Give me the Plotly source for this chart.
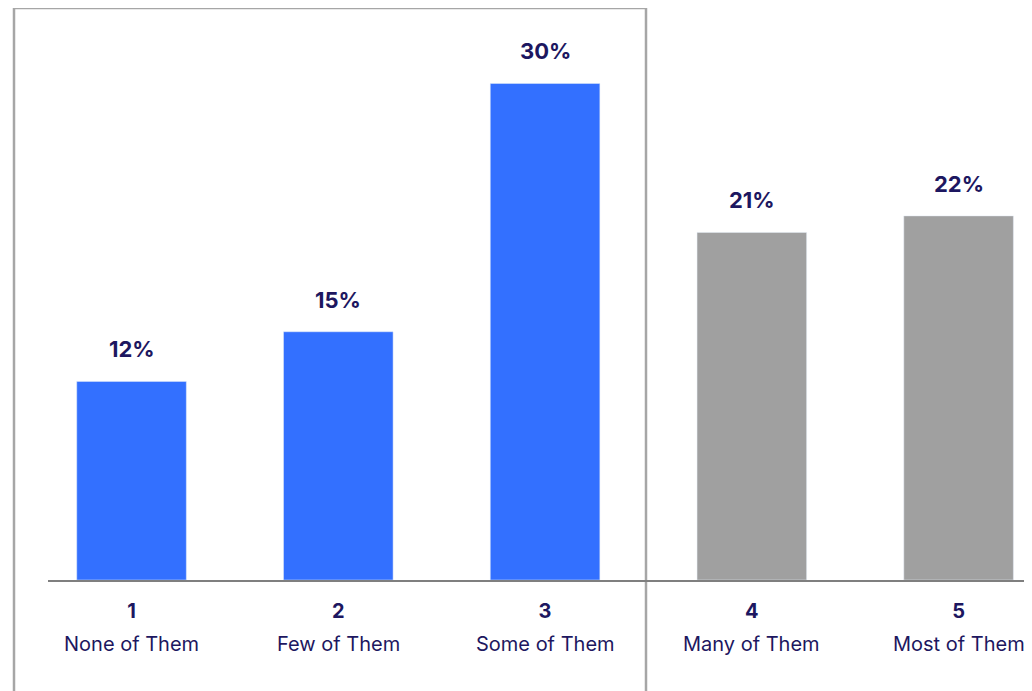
import plotly.graph_objects as go

codes = ["1", "2", "3", "4", "5"]
names = ["None of Them", "Few of Them", "Some of Them", "Many of Them", "Most of Them"]
shares = [12, 15, 30, 21, 22]
colors = ["#3370ff", "#3370ff", "#3370ff", "#a0a0a0", "#a0a0a0"]

navy = "#1d1760"
font = "Inter, Lato, sans-serif"

fig = go.Figure()
fig.add_trace(go.Bar(
    x=codes, y=shares, marker_color=colors, width=0.53,
    hoverinfo="skip",
))

# value labels above bars
for i, v in enumerate(shares):
    fig.add_annotation(x=i, y=v, text="<b>%d%%</b>" % v, showarrow=False,
                       yanchor="bottom", yshift=17,
                       font=dict(size=22, color=navy, family=font))
# category names under tick numbers
for i, n in enumerate(names):
    fig.add_annotation(x=i, y=0, yref="y", text=n, showarrow=False,
                       yanchor="middle", yshift=-64,
                       font=dict(size=20, color=navy, family=font))

# outline box around the "low" group
fig.add_shape(type="rect", xref="paper", yref="paper",
              x0=(6 - 40) / 984, x1=(638 - 40) / 984, y0=-0.3, y1=1.0,
              line=dict(color="#a6a6a6", width=2.5), layer="below")

fig.update_layout(
    width=1024, height=683,
    margin=dict(l=40, r=0, t=0, b=111),
    plot_bgcolor="white", paper_bgcolor="white",
    showlegend=False,
    xaxis=dict(type="category", range=[-0.404, 4.355], showgrid=False,
               showline=True, linecolor="#7f7f7f", linewidth=2, ticks="",
               tickvals=codes, ticktext=["<b>%s</b>" % c for c in codes],
               ticklabelstandoff=12,
               tickfont=dict(size=20, color=navy, family=font)),
    yaxis=dict(range=[0, 34.56], visible=False, showgrid=False),
)

fig.write_html("out.html")
